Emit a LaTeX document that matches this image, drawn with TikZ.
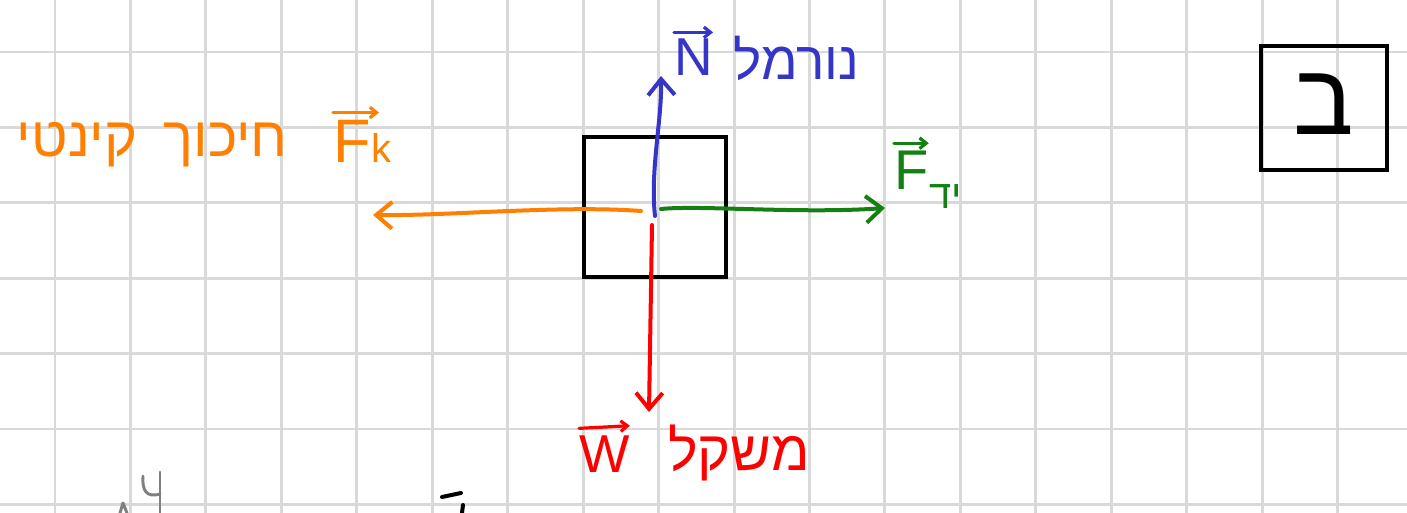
\documentclass[tikz,border=0pt]{standalone}
\usepackage{fontspec}
\usetikzlibrary{arrows.meta}
\TeXXeTstate=1
\newfontfamily\heb[Script=Hebrew]{Liberation Sans}
\newfontfamily\lat{Liberation Sans}
\definecolor{gridgray}{HTML}{D9D9D9}
\definecolor{nblue}{HTML}{3535C8}
\definecolor{forange}{HTML}{FF8000}
\definecolor{fgreen}{HTML}{148014}
\definecolor{wred}{HTML}{FF0000}
\definecolor{faint}{HTML}{808080}
\tikzset{
  gridline/.style={gridgray, line width=2.2pt},
  force/.style={line width=3pt, line cap=round, line join=round,
    -{Straight Barb[length=12pt,width=20pt]}},
  vecarr/.style={line width=2.4pt, line cap=round,
    -{Straight Barb[length=5pt,width=8pt]}},
  ink/.style={line width=3pt, line cap=round, line join=round},
  lbl/.style={inner sep=0pt},
}
\begin{document}
\begin{tikzpicture}[x=0.75pt,y=-0.75pt]
\useasboundingbox (0,0) rectangle (1407,513);
\fill[white] (0,0) rectangle (1407,513);
% grid
\foreach \k in {0,...,17} {
  \draw[gridline] ({55+75.45*\k},0) -- ({55+75.45*\k},513);
}
\foreach \k in {0,...,6} {
  \draw[gridline] (0,{52+75.4*\k}) -- (1407,{52+75.4*\k});
}
% block
\node[draw=black, line width=3.2pt, minimum width=107pt, minimum height=105pt, inner sep=0pt] (block) at (655,207) {};
% force coordinates
\coordinate (nS) at (655,216);
\coordinate (nE) at (661,76);
\coordinate (oS) at (641,211);
\coordinate (oE) at (373,215);
\coordinate (gS) at (661,209);
\coordinate (gE) at (885,208);
\coordinate (wS) at (652,225);
\coordinate (wE) at (649,412);
\draw[force, nblue] (nS) .. controls (650,170) and (662,120) .. (nE);
\draw[force, forange] (oS) .. controls (560,205) and (450,216) .. (oE);
\draw[force, fgreen] (gS) .. controls (700,205) and (800,214) .. (gE);
\draw[force, wred] (wS) -- (wE);
% labels: normal
\node[lbl, anchor=base west, text=nblue, font=\lat\fontsize{40}{40}\selectfont] (nvec) at (674,76) {N};
\draw[vecarr, nblue] ([yshift=5pt]nvec.north west) -- ([yshift=5pt]nvec.north east);
\node[lbl, anchor=base west, text=nblue, font=\heb\fontsize{40}{40}\selectfont] (nheb) at (733,80) {\beginR נורמל\endR};
% kinetic friction
\node[lbl, anchor=base west, text=forange, font=\lat\fontsize{46}{46}\selectfont] (fkF) at (333,163) {F};
\node[lbl, anchor=base west, text=forange, font=\lat\fontsize{30}{30}\selectfont] (fkk) at (fkF.base east) {k};
\draw[vecarr, forange] ([yshift=6pt]fkF.north west) -- ([yshift=6pt,xshift=6pt]fkF.north east);
\node[lbl, anchor=base east, text=forange, font=\heb\fontsize{42}{42}\selectfont] (fkheb) at (288,157) {\beginR חיכוך\hspace{8pt} קינטי\endR};
% hand force
\node[lbl, anchor=base west, text=fgreen, font=\lat\fontsize{42}{42}\selectfont] (fyF) at (894,190) {F};
\draw[vecarr, fgreen] ([yshift=6pt]fyF.north west) -- ([yshift=6pt]fyF.north east);
\node[lbl, anchor=base west, text=fgreen, font=\heb\fontsize{30}{30}\selectfont] (fyheb) at ([yshift=-14pt]fyF.base east) {\beginR יד\endR};
% weight
\node[lbl, anchor=base west, text=wred, font=\lat\fontsize{40}{40}\selectfont] (wvec) at (579,472) {W};
\draw[vecarr, wred] ([yshift=5pt]wvec.north west) -- ([yshift=7pt]wvec.north east);
\node[lbl, anchor=base west, text=wred, font=\heb\fontsize{42}{42}\selectfont] (wheb) at (668,470) {\beginR משקל\endR};
% section mark
\node[draw=black, line width=3pt, minimum width=94pt, minimum height=93pt, inner sep=0pt,
  font=\heb\fontsize{76}{76}\selectfont] (sec) at (1324,108) {\raisebox{6pt}{ב}};
% cut-off fragments at bottom edge
\draw[ink, faint, line width=2.2pt] (143,476) .. controls (142,490) and (146,498) .. (160,494);
\draw[ink, faint, line width=2.2pt] (160,472) -- (160,513);
\draw[ink, faint, line width=2.2pt] (120,513) -- (123,503) -- (127,513);
\draw[ink, black] (442,497) -- (461,493);
\draw[ink, black] (463,505) -- (462,513);
\end{tikzpicture}
\end{document}
